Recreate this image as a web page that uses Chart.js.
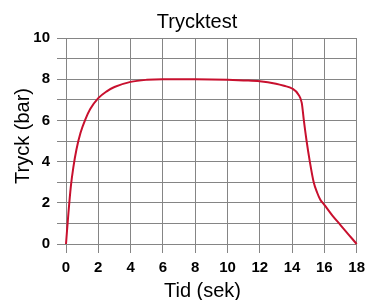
<!DOCTYPE html>
<html>
<head>
<meta charset="utf-8">
<script src="https://cdn.jsdelivr.net/npm/chart.js@4/dist/chart.umd.min.js"></script>
<style>
  html, body { margin: 0; padding: 0; background: #ffffff; }
  #wrap { width: 371px; height: 300px; position: relative; }
</style>
</head>
<body>
<div id="wrap"><canvas id="c" width="371" height="300"></canvas></div>
<script>
// ---- data ----
const chartTitle = 'Trycktest';
const xAxisTitle = 'Tid (sek)';
const yAxisTitle = 'Tryck (bar)';
const timeSec = [0, 0.15, 0.3, 0.45, 0.65, 0.9, 1.2, 1.5, 2, 2.5, 3, 4, 5, 6, 7, 8, 9, 10, 11, 12, 13, 13.5, 14, 14.4, 14.6, 14.73, 14.9, 15.1, 15.34, 15.55, 15.75, 16, 16.5, 17, 17.5, 18];
const pressureBar = [0, 1.5, 2.8, 3.7, 4.6, 5.4, 6.05, 6.55, 7.08, 7.4, 7.62, 7.87, 7.97, 8.0, 8.0, 8.0, 7.99, 7.97, 7.94, 7.9, 7.78, 7.68, 7.55, 7.25, 6.85, 6.0, 5.0, 4.0, 3.0, 2.5, 2.15, 1.9, 1.38, 0.92, 0.46, 0];
const xTicks = [0, 2, 4, 6, 8, 10, 12, 14, 16, 18];
const yTicks = [0, 2, 4, 6, 8, 10];

const points = timeSec.map((t, i) => ({ x: t, y: pressureBar[i] }));
const gridColor = '#858585';
const fontFamily = '"Liberation Sans", Arial, sans-serif';

const titlePlugin = {
  id: 'customTitles',
  afterDraw(chart) {
    const ctx = chart.ctx;
    ctx.save();
    ctx.fillStyle = '#000000';
    ctx.font = '20px ' + fontFamily;
    ctx.textAlign = 'center';
    ctx.textBaseline = 'alphabetic';
    ctx.fillText(chartTitle, 197, 27.5);
    ctx.fillText(xAxisTitle, 202.5, 297);
    ctx.translate(28.5, 136);
    ctx.rotate(-Math.PI / 2);
    ctx.fillText(yAxisTitle, 0, 0);
    ctx.restore();
  }
};

new Chart(document.getElementById('c'), {
  type: 'line',
  data: {
    datasets: [{
      data: points,
      borderColor: '#c8102e',
      borderWidth: 2,
      pointRadius: 0,
      fill: false,
      cubicInterpolationMode: 'monotone',
      clip: 6
    }]
  },
  options: {
    responsive: false,
    animation: false,
    devicePixelRatio: 1,
    layout: { padding: { top: 38, right: 11, left: 0, bottom: 0 } },
    plugins: { legend: { display: false }, title: { display: false }, tooltip: { enabled: false } },
    scales: {
      x: {
        type: 'linear',
        min: 0, max: 18,
        afterFit(scale) { scale.height = 56; },
        afterBuildTicks(scale) { scale.ticks = xTicks.map(v => ({ value: v })); },
        ticks: {
          autoSkip: false,
          maxRotation: 0,
          padding: 6,
          color: '#000000',
          font: { family: fontFamily, size: 15, weight: 'bold' }
        },
        grid: { color: gridColor, lineWidth: 1, tickLength: 9, drawTicks: true },
        border: { color: gridColor, width: 1 }
      },
      y: {
        min: 0, max: 10,
        afterFit(scale) { scale.width = 66; },
        afterBuildTicks(scale) {
          const t = [];
          for (let v = 0; v <= 10; v++) t.push({ value: v });
          scale.ticks = t;
        },
        ticks: {
          autoSkip: false,
          padding: 7,
          color: '#000000',
          font: { family: fontFamily, size: 15, weight: 'bold' },
          callback: (v) => yTicks.includes(v) ? String(v) : ''
        },
        grid: { color: gridColor, lineWidth: 1, tickLength: 9, drawTicks: true },
        border: { color: gridColor, width: 1 }
      }
    }
  },
  plugins: [titlePlugin]
});
</script>
</body>
</html>
